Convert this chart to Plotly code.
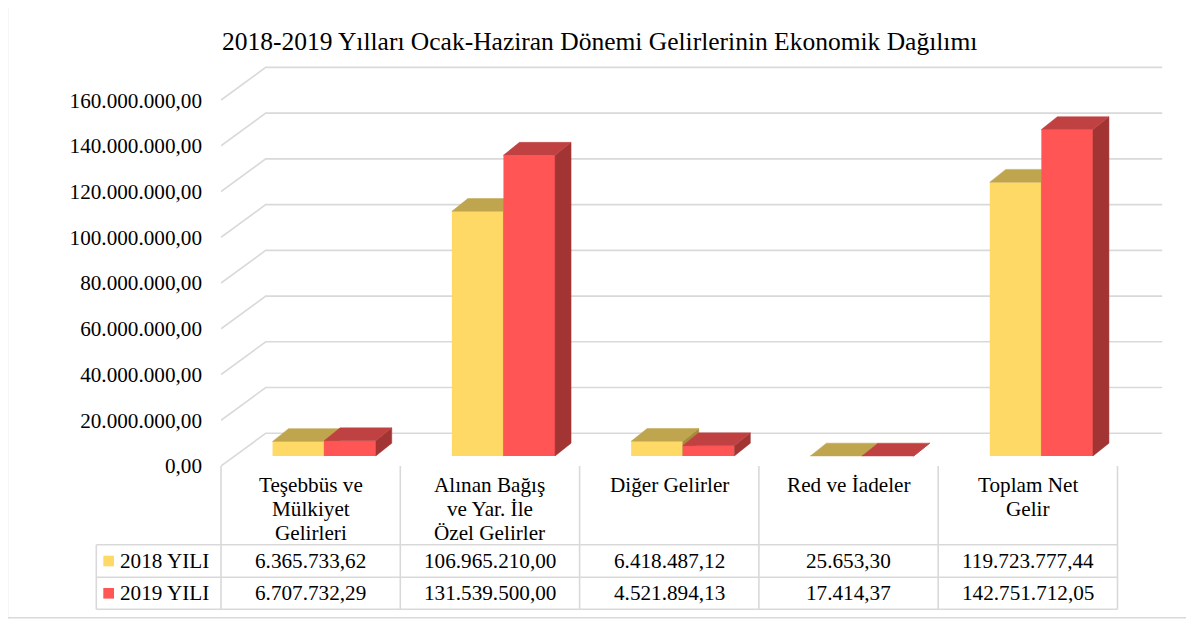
import plotly.graph_objects as go

# ---------------- data ----------------
categories = ["Teşebbüs ve<br>Mülkiyet<br>Gelirleri",
              "Alınan Bağış<br>ve Yar. İle<br>Özel Gelirler",
              "Diğer Gelirler",
              "Red ve İadeler",
              "Toplam Net<br>Gelir"]
series_names = ["2018 YILI", "2019 YILI"]
values_2018 = [6365733.62, 106965210.00, 6418487.12, 25653.30, 119723777.44]
values_2019 = [6707732.29, 131539500.00, 4521894.13, 17414.37, 142751712.05]
y_ticks = [0, 20e6, 40e6, 60e6, 80e6, 100e6, 120e6, 140e6, 160e6]
title_text = "2018-2019 Yılları Ocak-Haziran Dönemi Gelirlerinin Ekonomik Dağılımı"

# ---------------- style ----------------
FONT = "Liberation Serif"
FS = 21.2
GRID = "#D9D9D9"
YF, YT, YS = "#FFD966", "#BFA54E", "#A68B3C"
RF, RT, RS = "#FF5555", "#C04141", "#A23434"

OFF = 8  # page body margin
W_FIG, H_FIG = 1194, 619
PL, PR, PT, PB = 221 - OFF, 1170 - OFF, 40 - OFF, 466 - OFF   # plot area (figure pixels)
UNIT_PX = 179.3                              # px per category
VAL_PX = 2.287e-6                            # px per value unit
X_RANGE = [0, (PR - PL) / UNIT_PX]
Y_RANGE = [0, (PB - PT) / VAL_PX]

WALL_DX, WALL_DY = 44.7 / UNIT_PX, 32.7 / VAL_PX      # depth of the floor/back wall
SHIFT_X, BASE = 13.5 / UNIT_PX, 10.0 / VAL_PX         # position of bar fronts in depth
BAR_DX, BAR_DY = 16.0 / UNIT_PX, 12.8 / VAL_PX        # bar depth
BAR_W = 51.6 / UNIT_PX


def fmt_tr(v):
    s = f"{v:,.2f}"
    return s.replace(",", "X").replace(".", ",").replace("X", ".")


def px(x):
    """page pixel x -> paper"""
    return (x - OFF - PL) / (PR - PL)


def py(y):
    """page pixel y -> paper"""
    return (PB - (y - OFF)) / (PB - PT)


fig = go.Figure()


def add_series(vals, offset_sign, cf, ct, cs, xa, ya):
    xs_front = []
    for i, v in enumerate(vals):
        x0 = i + 0.5 + SHIFT_X + (-BAR_W if offset_sign < 0 else 0)
        xs_front.append(x0 + BAR_W / 2)
    fig.add_trace(go.Bar(x=xs_front, y=vals, base=[BASE] * len(vals), width=BAR_W,
                         marker=dict(color=cf, line=dict(width=0)),
                         xaxis=xa, yaxis=ya, hoverinfo="skip", showlegend=False))
    sx, sy, tx, ty = [], [], [], []
    for xc, v in zip(xs_front, vals):
        x0, x1 = xc - BAR_W / 2, xc + BAR_W / 2
        top = BASE + v
        sx += [x1, x1 + BAR_DX, x1 + BAR_DX, x1, x1, None]
        sy += [BASE, BASE + BAR_DY, top + BAR_DY, top, BASE, None]
        tx += [x0, x1, x1 + BAR_DX, x0 + BAR_DX, x0, None]
        ty += [top, top, top + BAR_DY, top + BAR_DY, top, None]
    fig.add_trace(go.Scatter(x=sx, y=sy, mode="lines", fill="toself", fillcolor=cs,
                             line=dict(color=cs, width=0.5), xaxis=xa, yaxis=ya,
                             hoverinfo="skip", showlegend=False))
    fig.add_trace(go.Scatter(x=tx, y=ty, mode="lines", fill="toself", fillcolor=ct,
                             line=dict(color=ct, width=0.5), xaxis=xa, yaxis=ya,
                             hoverinfo="skip", showlegend=False))


add_series(values_2018, -1, YF, YT, YS, "x", "y")
add_series(values_2019, +1, RF, RT, RS, "x2", "y2")

shapes = []
# oblique gridlines (back wall + side)
n_cat = len(categories)
for t in y_ticks:
    path = (f"M 0,{t} L {WALL_DX},{t + WALL_DY} L {n_cat + WALL_DX},{t + WALL_DY}")
    shapes.append(dict(type="path", path=path, xref="x", yref="y", layer="below",
                       line=dict(color=GRID, width=1.6)))

# data table (page pixel positions)
col_x = [221 + UNIT_PX * i for i in range(n_cat + 1)]
row_y = [544.7, 577.3, 609.3]
leg_left = 96.3
tl = dict(color=GRID, width=1.6)
for xx in col_x:
    shapes.append(dict(type="line", xref="paper", yref="paper", x0=px(xx), x1=px(xx),
                       y0=py(466), y1=py(row_y[-1]), line=tl))
for yy in row_y:
    shapes.append(dict(type="line", xref="paper", yref="paper", x0=px(leg_left), x1=px(col_x[-1]),
                       y0=py(yy), y1=py(yy), line=tl))
shapes.append(dict(type="line", xref="paper", yref="paper", x0=px(leg_left), x1=px(leg_left),
                   y0=py(row_y[0]), y1=py(row_y[-1]), line=tl))
# outer border
shapes.append(dict(type="path", xref="paper", yref="paper",
                   path=f"M {px(1210)},{py(2.5)} L {px(7.5)},{py(2.5)} L {px(7.5)},{py(617.8)} L {px(1210)},{py(617.8)}",
                   line=dict(color=GRID, width=1.5)))

annotations = []
LINE_H = 23.8
for i, c in enumerate(categories):
    cx = (col_x[i] + col_x[i + 1]) / 2
    for k, line in enumerate(c.split("<br>")):
        annotations.append(dict(text=line, xref="paper", yref="paper", x=px(cx),
                                y=py(485 + k * LINE_H),
                                xanchor="center", yanchor="middle", showarrow=False,
                                font=dict(family=FONT, size=FS, color="black")))
row_centers = [(row_y[0] + row_y[1]) / 2, (row_y[1] + row_y[2]) / 2]
for r, (name, vals, col) in enumerate(zip(series_names, [values_2018, values_2019], [YF, RF])):
    yc = row_centers[r]
    shapes.append(dict(type="rect", xref="paper", yref="paper", x0=px(103.3), x1=px(114),
                       y0=py(yc - 5.3), y1=py(yc + 5.3), fillcolor=col, line=dict(width=0)))
    annotations.append(dict(text=name, xref="paper", yref="paper", x=px(117.5), y=py(yc),
                            xanchor="left", yanchor="middle", showarrow=False,
                            font=dict(family=FONT, size=FS, color="black")))
    for i, v in enumerate(vals):
        cx = (col_x[i] + col_x[i + 1]) / 2
        annotations.append(dict(text=fmt_tr(v), xref="paper", yref="paper", x=px(cx), y=py(yc),
                                xanchor="center", yanchor="middle", showarrow=False,
                                font=dict(family=FONT, size=FS, color="black")))

annotations.append(dict(text=title_text, xref="paper", yref="paper", x=px(599), y=py(41),
                        xanchor="center", yanchor="middle", showarrow=False,
                        font=dict(family=FONT, size=25.5, color="black")))

fig.update_layout(
    width=W_FIG, height=H_FIG,
    margin=dict(l=PL, r=W_FIG - PR, t=PT, b=H_FIG - PB, pad=0),
    paper_bgcolor="white", plot_bgcolor="rgba(0,0,0,0)",
    barmode="overlay",
    showlegend=False,
    xaxis=dict(range=X_RANGE, visible=False, fixedrange=True),
    xaxis2=dict(range=X_RANGE, overlaying="x", visible=False, fixedrange=True),
    yaxis=dict(range=Y_RANGE, tickvals=y_ticks, ticktext=[fmt_tr(t) for t in y_ticks],
               showgrid=False, zeroline=False, showline=False, ticks="",
               ticklabelstandoff=18,
               tickfont=dict(family=FONT, size=FS, color="black"), fixedrange=True),
    yaxis2=dict(range=Y_RANGE, overlaying="y", visible=False, fixedrange=True),
    shapes=shapes,
    annotations=annotations,
)

fig.write_html("out.html")
